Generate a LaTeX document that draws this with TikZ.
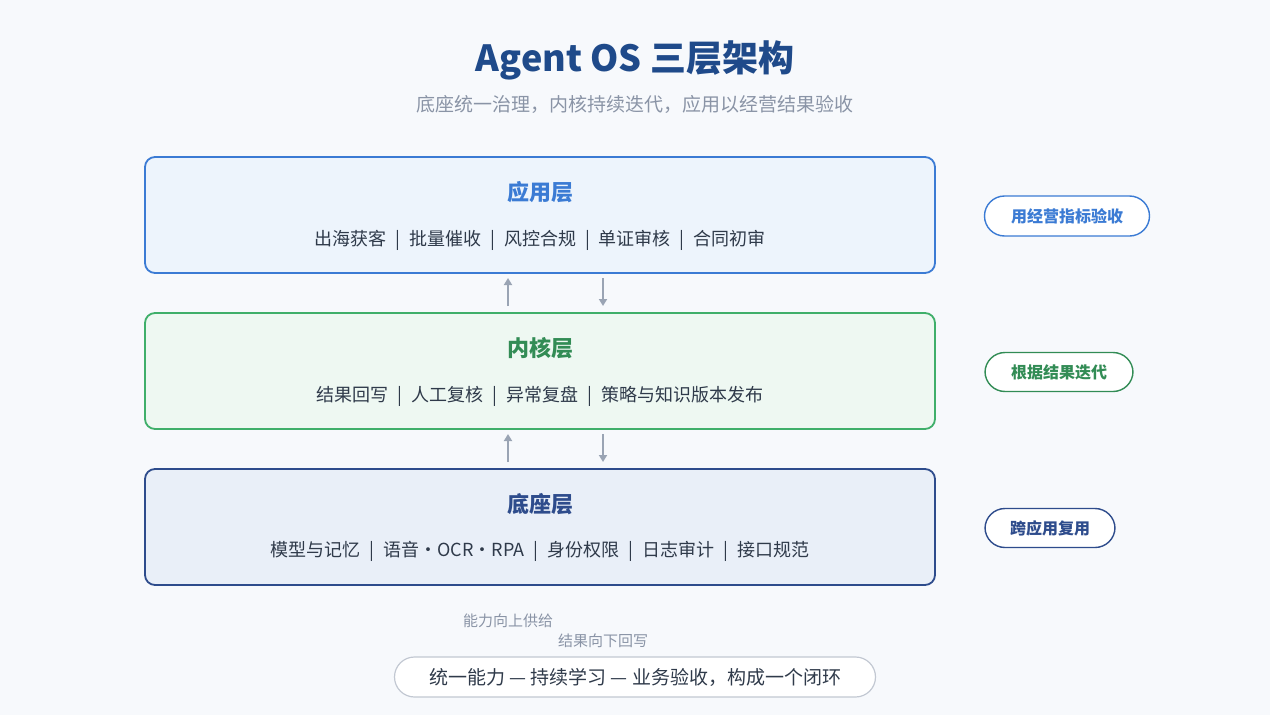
\documentclass[tikz,border=0pt]{standalone}
\usepackage{fontspec}
\setmainfont{Noto Sans CJK SC}
\newfontfamily\cjkb{Noto Sans CJK SC Bold}
\usetikzlibrary{arrows.meta}
\definecolor{bg}{HTML}{F7F9FC}
\definecolor{ttl}{HTML}{1F4A8A}
\definecolor{gr}{HTML}{8A94A6}
\definecolor{txt}{HTML}{2F3A4A}
\definecolor{ablue}{HTML}{3B7BD4}\definecolor{afill}{HTML}{EDF4FC}
\definecolor{kgreen}{HTML}{3FAF6A}\definecolor{kfill}{HTML}{EEF8F2}
\definecolor{bnavy}{HTML}{2E4C8C}\definecolor{bfill}{HTML}{E9EFF8}
\definecolor{arr}{HTML}{9AA4B4}
\begin{document}
\begin{tikzpicture}[x=1pt,y=-1pt,
 layer/.style={draw=#1,line width=1.8pt,rounded corners=10pt},
 pill/.style={draw=#1,line width=1.4pt,fill=white,rounded corners=20pt,text=#1,font=\bfseries\fontsize{16}{16}\selectfont},
 item/.style={text=txt,font=\fontsize{18}{18}\selectfont},
 ltitle/.style={text=#1,font=\bfseries\fontsize{22}{22}\selectfont},
 ar/.style={draw=arr,line width=1.8pt,-{Triangle[length=7pt,width=8pt]}},
 note/.style={text=gr,font=\fontsize{15}{15}\selectfont}]
\fill[bg] (0,0) rectangle (1270,715);
\useasboundingbox (0,0) rectangle (1270,715);
\node[text=ttl,font=\bfseries\fontsize{36}{36}\selectfont] (title) at (635,60) {Agent OS 三层架构};
\node[text=gr,font=\fontsize{19}{19}\selectfont] (sub) at (635,104) {底座统一治理，内核持续迭代，应用以经营结果验收};
\draw[layer=ablue,fill=afill] (145,157) rectangle (935,273);
\node[ltitle=ablue] (t1) at (540,192) {应用层};
\node[item] (i1) at (540,240) {出海获客\enspace|\enspace 批量催收\enspace|\enspace 风控合规\enspace|\enspace 单证审核\enspace|\enspace 合同初审};
\draw[layer=kgreen,fill=kfill] (145,313) rectangle (935,429);
\node[ltitle=kgreen!80!black] (t2) at (540,348) {内核层};
\node[item] (i2) at (540,396) {结果回写\enspace|\enspace 人工复核\enspace|\enspace 异常复盘\enspace|\enspace 策略与知识版本发布};
\draw[layer=bnavy,fill=bfill] (145,469) rectangle (935,585);
\node[ltitle=bnavy] (t3) at (540,504) {底座层};
\node[item] (i3) at (540,551) {模型与记忆\enspace|\enspace 语音・OCR・RPA\enspace|\enspace 身份权限\enspace|\enspace 日志审计\enspace|\enspace 接口规范};
\coordinate (u1a) at (508,306);\coordinate (u1b) at (508,278);
\coordinate (d1a) at (603,278);\coordinate (d1b) at (603,306);
\coordinate (u2a) at (508,462);\coordinate (u2b) at (508,434);
\coordinate (d2a) at (603,434);\coordinate (d2b) at (603,462);
\draw[ar] (u1a)--(u1b); \draw[ar] (d1a)--(d1b);
\draw[ar] (u2a)--(u2b); \draw[ar] (d2a)--(d2b);
\node[pill=ablue,minimum width=165pt,minimum height=40pt] (p1) at (1067,216) {用经营指标验收};
\node[pill=kgreen!80!black,minimum width=148pt,minimum height=39pt] (p2) at (1059,372) {根据结果迭代};
\node[pill=bnavy,minimum width=130pt,minimum height=39pt] (p3) at (1050,528) {跨应用复用};
\node[note] (n1) at (508,621) {能力向上供给};
\node[note] (n2) at (603,641) {结果向下回写};
\node[draw=arr!60,line width=1.2pt,fill=white,rounded corners=20pt,minimum width=481pt,minimum height=40pt,text=txt,font=\fontsize{19}{19}\selectfont] (loop) at (635,677) {统一能力 — 持续学习 — 业务验收，构成一个闭环};
\end{tikzpicture}
\end{document}
